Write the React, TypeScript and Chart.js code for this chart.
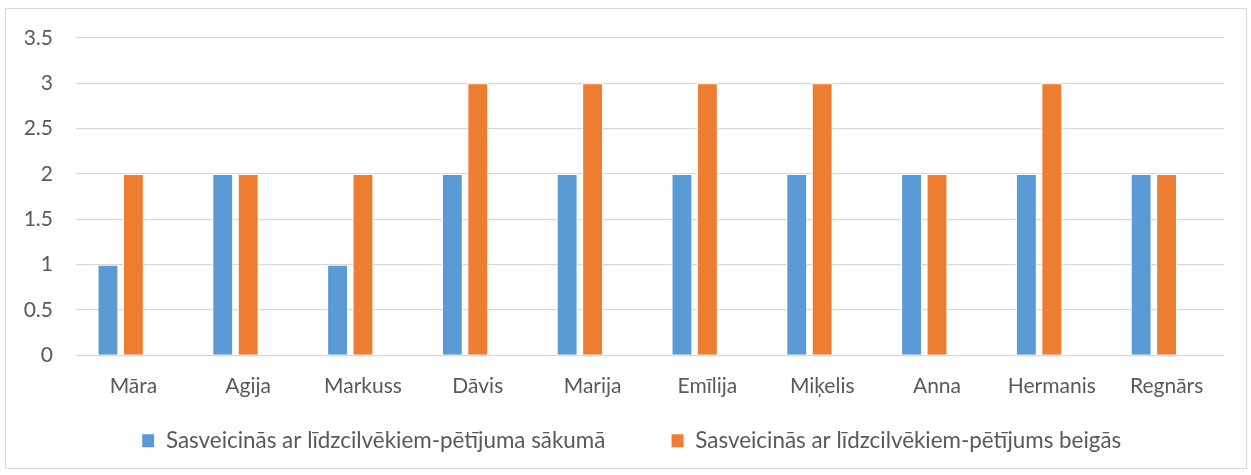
import React, { useEffect, useRef } from "react";
import { Chart, registerables } from "chart.js";
Chart.register(...registerables);

const categories = ["Māra", "Agija", "Markuss", "Dāvis", "Marija", "Emīlija", "Miķelis", "Anna", "Hermanis", "Regnārs"];
const seriesStart = [1, 2, 1, 2, 2, 2, 2, 2, 2, 2];
const seriesEnd = [2, 2, 2, 3, 3, 3, 3, 2, 3, 2];
const seriesEmpty = [null, null, null, null, null, null, null, null, null, null];
const labelStart = "Sasveicinās ar līdzcilvēkiem-pētījuma sākumā";
const labelEnd = "Sasveicinās ar līdzcilvēkiem-pētījums beigās";
const spacerLabel = "  ";

const legendShift = {
  id: "legendShift",
  afterLayout(chart: any) {
    if (chart.legend) chart.legend.left += 16;
  },
};

export default function App() {
  const ref = useRef<HTMLCanvasElement>(null);
  useEffect(() => {
    const font = "Lato, 'Noto Sans', sans-serif";
    const common = { barPercentage: 0.82, categoryPercentage: 0.665, borderColor: "#ffffff", borderWidth: 1 };
    const rank = (t: string) => (t === labelStart ? 0 : t === spacerLabel ? 1 : 2);
    const chart = new Chart(ref.current!, {
      type: "bar",
      plugins: [legendShift],
      data: {
        labels: categories,
        datasets: [
          { label: labelStart, data: seriesStart, backgroundColor: "#5B9BD5", ...common },
          { label: labelEnd, data: seriesEnd, backgroundColor: "#ED7D31", ...common },
          { label: spacerLabel, data: seriesEmpty as any, backgroundColor: "rgba(0,0,0,0)", ...common, borderWidth: 0 },
        ],
      },
      options: {
        animation: false,
        responsive: true,
        maintainAspectRatio: false,
        layout: { padding: { left: 17, right: 22, top: 0, bottom: 6 } },
        plugins: {
          tooltip: { enabled: false },
          legend: {
            position: "bottom",
            labels: {
              sort: (a, b) => rank(a.text) - rank(b.text),
              boxWidth: 13,
              boxHeight: 14,
              padding: 15,
              color: "#595959",
              font: { family: font, size: 22.4 },
            },
          },
        },
        scales: {
          x: {
            grid: { display: false },
            border: { display: false },
            ticks: { color: "#595959", font: { family: font, size: 21 }, padding: 10 },
            afterFit: (scale: any) => {
              scale.height += 6;
            },
          },
          y: {
            min: 0,
            max: 3.5,
            ticks: {
              stepSize: 0.5,
              color: "#595959",
              font: { family: font, size: 21 },
              padding: 23,
              callback: (v: any) => String(Number(v)),
            },
            grid: { color: "#d9d9d9", lineWidth: 1.3, drawTicks: false },
            border: { display: false },
            afterFit: (scale: any) => {
              scale.width = 53;
              scale.paddingTop = 29;
            },
          },
        },
      },
    });
    return () => chart.destroy();
  }, []);
  return (
    <div style={{ position: "absolute", left: 5, top: 8, width: 1242, height: 461, border: "1px solid #d9d9d9", boxSizing: "border-box", background: "#fff" }}>
      <canvas ref={ref} />
    </div>
  );
}
